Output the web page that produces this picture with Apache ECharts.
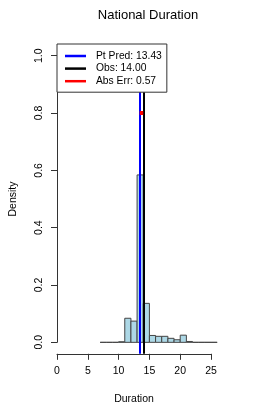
<!DOCTYPE html>
<html>
<head>
<meta charset="utf-8">
<script src="https://cdn.jsdelivr.net/npm/echarts@6/dist/echarts.min.js"></script>
<style>html,body{margin:0;padding:0;background:#fff;}#c{width:274px;height:411px;}</style>
</head>
<body>
<div id="c"></div>
<script>
// ---- data ----
const binStarts = [7,8,9,10,11,12,13,14,15,16,17,18,19,20,21,22,23,24,25];
const binWidth = 1;
const density = [0,0,0,0.002,0.084,0.074,0.584,0.136,0.024,0.021,0.021,0.014,0.009,0.025,0.003,0,0,0,0];
const ptPred = 13.43;
const obs = 14.00;
const errLevel = 0.8;
const xTicks = [0,5,10,15,20,25];
const yTicks = [0,0.2,0.4,0.6,0.8,1.0];

const FONT = 'Liberation Sans, Arial, sans-serif';
const absErr = Math.abs(obs - ptPred);

const chart = echarts.init(document.getElementById('c'), null, {renderer:'canvas'});
const plotGrid = {left:57, top:44.2, width:172.5, height:309.6};
const option = {
  animation:false,
  backgroundColor:'#fff',
  title:{text:'National Duration', left:143, top:4, textAlign:'center',
    textStyle:{fontFamily:FONT, fontSize:13, fontWeight:'normal', color:'#000'}},
  legend:{
    left:57, top:44, orient:'vertical', z:20,
    backgroundColor:'#fff', borderColor:'#333', borderWidth:1, borderRadius:0,
    padding:[7,5,6,8], itemGap:2.6, itemWidth:21, itemHeight:2.5,
    icon:'rect',
    textStyle:{fontFamily:FONT, fontSize:10.3, color:'#000', padding:[0,0,0,5], lineHeight:10},
    data:['Pt Pred: ' + ptPred.toFixed(2), 'Obs: ' + obs.toFixed(2), 'Abs Err: ' + absErr.toFixed(2)]
  },
  grid:[
    plotGrid,
    {left:57, top:44.2, width:154, height:309.6},
    {left:57, top:55.7, width:172.5, height:286.6}
  ],
  xAxis:[
    {type:'value', gridIndex:0, min:0, max:28, show:false},
    {type:'value', gridIndex:1, min:0, max:25, interval:5, position:'bottom',
      axisLine:{show:true, lineStyle:{color:'#333', width:1}},
      axisTick:{show:true, length:6, lineStyle:{color:'#333'}},
      splitLine:{show:false},
      axisLabel:{margin:12, fontFamily:FONT, fontSize:10.5, color:'#000'},
      name:'Duration', nameLocation:'middle', nameGap:40,
      nameTextStyle:{fontFamily:FONT, fontSize:10.5, color:'#000'}},
    {type:'value', gridIndex:2, min:0, max:28, show:false}
  ],
  yAxis:[
    {type:'value', gridIndex:0, min:-0.04, max:1.04, show:false},
    {type:'value', gridIndex:1, min:0, max:1, show:false},
    {type:'value', gridIndex:2, min:0, max:1, interval:0.2, position:'left',
      axisLine:{show:true, lineStyle:{color:'#333', width:1}},
      axisTick:{show:true, length:6, lineStyle:{color:'#333'}},
      splitLine:{show:false},
      axisLabel:{margin:12, rotate:90, fontFamily:FONT, fontSize:10.5, color:'#000',
        formatter:v=>v.toFixed(1)},
      name:'Density', nameLocation:'middle', nameGap:38, nameRotate:90,
      nameTextStyle:{fontFamily:FONT, fontSize:10.5, color:'#000'}}
  ],
  series:[
    {
      type:'custom', xAxisIndex:0, yAxisIndex:0, silent:true, z:1,
      data: binStarts.map((b,i)=>[b, density[i]]),
      renderItem:(params, api)=>{
        const x0 = api.value(0), h = api.value(1);
        const p0 = api.coord([x0, 0]);
        const p1 = api.coord([x0 + binWidth, h]);
        return {type:'rect', shape:{x:p0[0], y:p1[1], width:p1[0]-p0[0], height:p0[1]-p1[1]},
          style:{fill:'#ADD8E6', stroke:'#444', lineWidth:1}};
      }
    },
    {
      name:'Pt Pred: ' + ptPred.toFixed(2), type:'line', xAxisIndex:0, yAxisIndex:0, z:2,
      data:[], color:'#0000FF', lineStyle:{color:'#0000FF', width:2},
      markLine:{silent:true, symbol:'none', label:{show:false}, z:2,
        lineStyle:{color:'#0000FF', width:2, type:'solid'}, data:[{xAxis:ptPred}]}
    },
    {
      name:'Obs: ' + obs.toFixed(2), type:'line', xAxisIndex:0, yAxisIndex:0, z:2,
      data:[], color:'#000000', lineStyle:{color:'#000', width:2},
      markLine:{silent:true, symbol:'none', label:{show:false}, z:2,
        lineStyle:{color:'#000', width:2, type:'solid'}, data:[{xAxis:obs}]}
    },
    {
      name:'Abs Err: ' + absErr.toFixed(2), type:'line', xAxisIndex:0, yAxisIndex:0, z:3,
      data:[[ptPred, errLevel],[obs, errLevel]], color:'#FF0000',
      showSymbol:false, symbol:'none', lineStyle:{color:'#FF0000', width:4}
    }
  ]
};
chart.setOption(option);
</script>
</body>
</html>
